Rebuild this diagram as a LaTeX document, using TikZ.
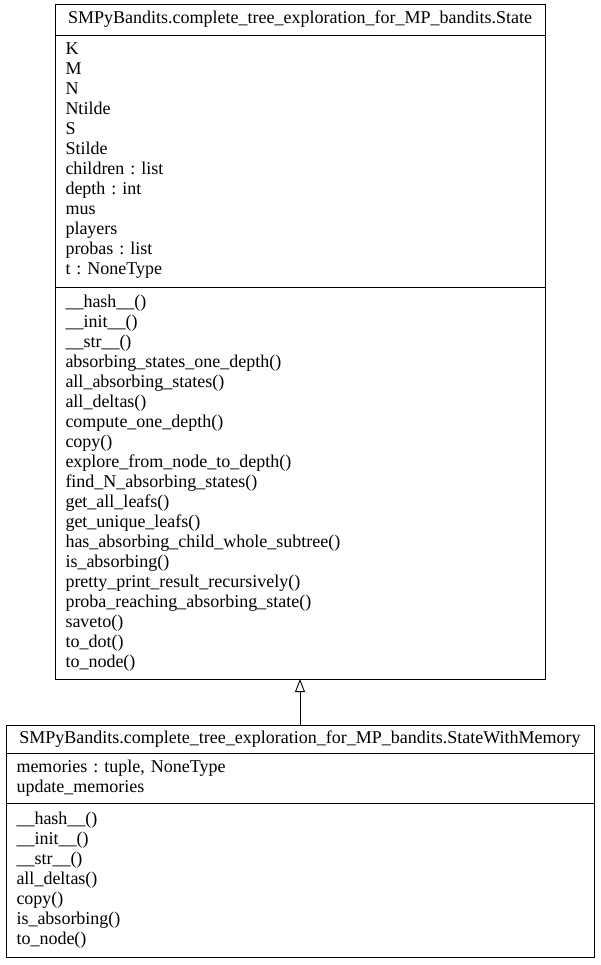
\documentclass[tikz,border=0pt]{standalone}
\usepackage{fontspec}
\setmainfont{Liberation Serif}
\usetikzlibrary{positioning}
\usetikzlibrary{arrows.meta}

\tikzset{
  classpart/.style={draw, line width=0.9pt, outer sep=0pt, inner xsep=10.5pt, inner ysep=3pt,
    font=\fontsize{18}{20}\selectfont\frenchspacing},
  classhead/.style={classpart, align=center},
  classbody/.style={classpart, align=left},
  inherit/.style={line width=0.9pt, -{Triangle[open, length=13pt, width=10pt]}}
}

\begin{document}
\begin{tikzpicture}
  \useasboundingbox (0,0) rectangle (601pt,-965pt);
  \node[classhead, text width=469pt, minimum height=31pt, anchor=north] (statehead) at (300pt,-4pt)
    {SMPyBandits.complete\_tree\_exploration\_for\_MP\_bandits.State};
  \node[classbody, text width=469pt, minimum height=252pt, below=0pt of statehead] (stateattr)
    {K\\M\\N\\Ntilde\\S\\Stilde\\children : list\\depth : int\\mus\\players\\probas : list\\t : NoneType};
  \node[classbody, text width=469pt, minimum height=392pt, below=0pt of stateattr] (statemeth)
    {\_\_hash\_\_()\\\_\_init\_\_()\\\_\_str\_\_()\\absorbing\_states\_one\_depth()\\all\_absorbing\_states()\\
     all\_deltas()\\compute\_one\_depth()\\copy()\\explore\_from\_node\_to\_depth()\\find\_N\_absorbing\_states()\\
     get\_all\_leafs()\\get\_unique\_leafs()\\has\_absorbing\_child\_whole\_subtree()\\is\_absorbing()\\
     pretty\_print\_result\_recursively()\\proba\_reaching\_absorbing\_state()\\saveto()\\to\_dot()\\to\_node()};

  \node[classhead, text width=567pt, minimum height=28pt, anchor=north] (memhead) at (300pt,-725pt)
    {SMPyBandits.complete\_tree\_exploration\_for\_MP\_bandits.StateWithMemory};
  \node[classbody, text width=567pt, minimum height=50pt, below=0pt of memhead] (memattr)
    {memories : tuple, NoneType\\update\_memories};
  \node[classbody, text width=567pt, minimum height=154pt, below=0pt of memattr] (memmeth)
    {\_\_hash\_\_()\\\_\_init\_\_()\\\_\_str\_\_()\\all\_deltas()\\copy()\\is\_absorbing()\\to\_node()};

  \draw[inherit] (memhead.north) -- (statemeth.south);
\end{tikzpicture}
\end{document}
